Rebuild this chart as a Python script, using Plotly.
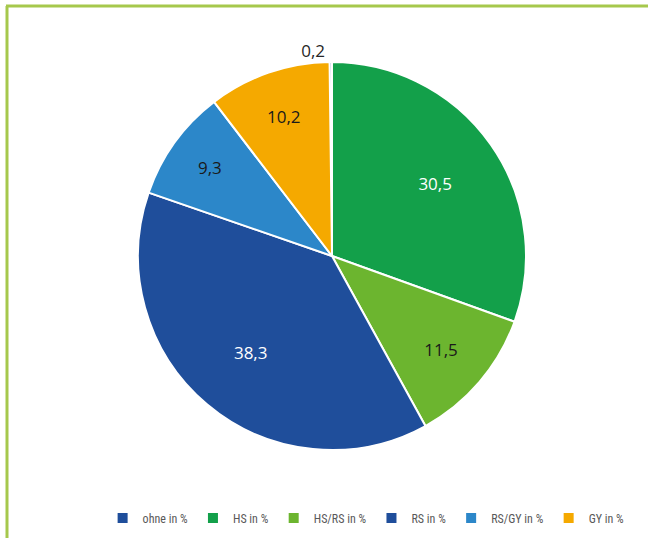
import plotly.graph_objects as go

labels = ["ohne in %", "HS in %", "HS/RS in %", "RS in %", "RS/GY in %", "GY in %"]
values = [0.2, 30.5, 11.5, 38.3, 9.3, 10.2]
text_labels = ["0,2", "30,5", "11,5", "38,3", "9,3", "10,2"]
colors = ["#1F4E9B", "#13A04A", "#6CB52F", "#1F4E9B", "#2C87C9", "#F5A900"]
text_colors = ["#262626", "#FFFFFF", "#1A1A1A", "#FFFFFF", "#1A1A1A", "#1A1A1A"]
# small slices get labels from the base pie, large slices from a ring overlay
small_text = ["0,2", "", "11,5", "", "9,3", "10,2"]
large_text = ["", "30,5", "", "38,3", "", ""]
positions = ["outside", "inside", "inside", "inside", "inside", "inside"]

W, H = 648, 538
dom = dict(x=[137/W, 527/W], y=[(H-450)/H, (H-62)/H])
common = dict(labels=labels, values=values, sort=False, direction="clockwise",
              rotation=-0.72, domain=dom, textinfo="text",
              insidetextorientation="horizontal")
fig = go.Figure()
fig.add_trace(go.Pie(
    text=small_text, textposition=positions,
    marker=dict(colors=colors, line=dict(color="white", width=2)),
    textfont=dict(color=text_colors, size=17, family="Open Sans"),
    outsidetextfont=dict(color="#262626", size=17, family="Open Sans"),
    **common,
))
fig.add_trace(go.Pie(
    text=large_text, textposition="inside", hole=0.3, showlegend=False,
    hoverinfo="skip",
    marker=dict(colors=["rgba(0,0,0,0)"] * len(values), line=dict(width=0)),
    textfont=dict(color=text_colors, size=17, family="Open Sans"),
    **common,
))
fig.update_layout(
    width=W, height=H, margin=dict(l=0, r=0, t=0, b=0),
    paper_bgcolor="white", plot_bgcolor="white",
    legend=dict(orientation="h", x=0.565, xanchor="center", y=(H-518)/H, yanchor="middle",
                font=dict(size=12, color="#595959",
                          family="Liberation Sans Narrow, Roboto Condensed, Roboto"),
                itemwidth=30, traceorder="normal"),
    shapes=[
        dict(type="line", xref="paper", yref="paper", x0=6/W, x1=1, y0=1-6/H, y1=1-6/H,
             line=dict(color="#A6C84C", width=3)),
        dict(type="line", xref="paper", yref="paper", x0=7/W, x1=7/W, y0=0, y1=1-6/H,
             line=dict(color="#A6C84C", width=3)),
    ],
)
fig.write_html("out.html", config={"displayModeBar": False},
               post_script="document.body.style.margin='0px';")
